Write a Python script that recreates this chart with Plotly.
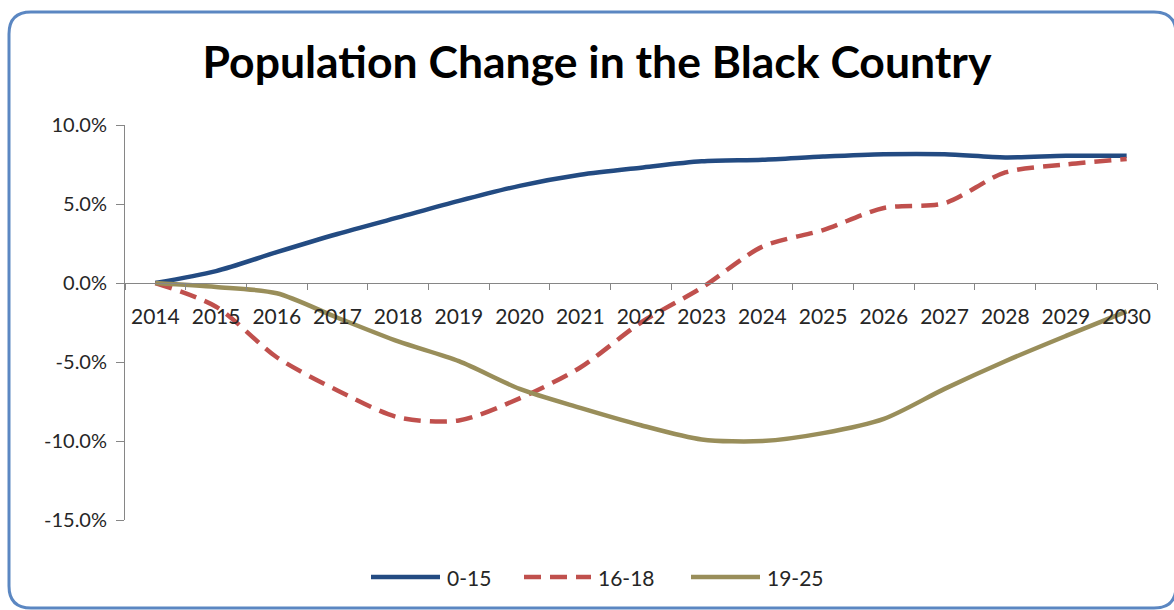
import plotly.graph_objects as go

years = [str(y) for y in range(2014, 2031)]
age_0_15 = [0, 0.75, 1.95, 3.1, 4.15, 5.2, 6.15, 6.85, 7.3, 7.7, 7.8, 8.0, 8.15, 8.15, 7.95, 8.05, 8.05]
age_16_18 = [0, -1.5, -4.7, -6.8, -8.5, -8.7, -7.3, -5.35, -2.5, -0.3, 2.3, 3.35, 4.75, 5.05, 7.0, 7.5, 7.85]
age_19_25 = [0, -0.25, -0.65, -2.2, -3.7, -4.95, -6.7, -7.9, -9.0, -9.9, -10.0, -9.5, -8.6, -6.7, -4.95, -3.35, -1.8]
y_tick_vals = [10, 5, 0, -5, -10, -15]
y_tick_text = ["10.0%", "5.0%", "0.0%", "-5.0%", "-10.0%", "-15.0%"]
series_names = ["0-15", "16-18", "19-25"]

W, H = 1174, 610
ML, MR, MT, MB = 125, 17, 125, 90
PW, PH = W - ML - MR, H - MT - MB
FONT = "Lato"
AXIS_GREY = "#868686"
TEXT = "#262626"

styles = [
    dict(color="#234B82", width=4.5),
    dict(color="#C0504D", width=4.5, dash="17px,9px"),
    dict(color="#998E5A", width=4.5),
]

fig = go.Figure()
for name, vals, st in zip(series_names, [age_0_15, age_16_18, age_19_25], styles):
    fig.add_trace(go.Scatter(x=years, y=vals, name=name, mode="lines",
                             line=dict(shape="spline", smoothing=0.8, **st)))


def px2paper(px, py):
    return (px - ML) / PW, (H - MB - py) / PH


def P(x, y):
    a, b = px2paper(x, y)
    return f"{a:.5f},{b:.5f}"


# rounded chart border
L, T, R, B, r = 9, 12, 1176, 608, 22
path = (f"M {P(L + r, T)} L {P(R - r, T)} Q {P(R, T)} {P(R, T + r)} "
        f"L {P(R, B - r)} Q {P(R, B)} {P(R - r, B)} "
        f"L {P(L + r, B)} Q {P(L, B)} {P(L, B - r)} "
        f"L {P(L, T + r)} Q {P(L, T)} {P(L + r, T)} Z")
fig.add_shape(type="path", path=path, xref="paper", yref="paper",
              line=dict(color="#5B87C2", width=3), layer="below")

# legend (drawn manually so the line samples match the long Excel keys)
legend_y = 577
legend_items = [(371, 440, 445), (524, 591, 596), (691, 760, 765)]
for (x0, x1, tx), name, st in zip(legend_items, series_names, styles):
    a0, b0 = px2paper(x0, legend_y)
    a1, _ = px2paper(x1, legend_y)
    fig.add_shape(type="line", xref="paper", yref="paper", x0=a0, x1=a1, y0=b0, y1=b0,
                  line=dict(color=st["color"], width=st["width"], dash=st.get("dash", "solid")))
    at, _ = px2paper(tx, legend_y)
    fig.add_annotation(text=name, xref="paper", yref="paper", x=at, y=b0,
                       xanchor="left", yanchor="middle", showarrow=False,
                       font=dict(family=FONT, size=21, color=TEXT))

zero_pos = (0 - min(y_tick_vals)) / (max(y_tick_vals) - min(y_tick_vals))

fig.update_layout(
    width=W, height=H,
    margin=dict(l=ML, r=MR, t=MT, b=MB, autoexpand=False),
    paper_bgcolor="white", plot_bgcolor="white",
    font=dict(family=FONT, size=21, color=TEXT),
    title=dict(text="<b>Population Change in the Black Country</b>",
               font=dict(family=FONT, size=44.5, color="black"),
               x=597 / W, xanchor="center", xref="container",
               y=1 - 62 / H, yanchor="middle", yref="container"),
    xaxis=dict(type="category", range=[-0.5, len(years) - 0.5],
               tickson="boundaries", ticks="outside", ticklen=6,
               tickcolor=AXIS_GREY, showline=True, linecolor=AXIS_GREY, linewidth=1,
               showgrid=False, zeroline=False, anchor="free", position=zero_pos,
               automargin=False, ticklabelstandoff=15,
               tickfont=dict(size=21, color=TEXT)),
    yaxis=dict(range=[min(y_tick_vals), max(y_tick_vals)], tickvals=y_tick_vals, ticktext=y_tick_text,
               ticks="outside", ticklen=8, tickcolor=AXIS_GREY, showline=True,
               linecolor=AXIS_GREY, linewidth=1, showgrid=False, zeroline=False,
               automargin=False, ticklabelstandoff=5,
               tickfont=dict(size=20, color=TEXT)),
    showlegend=False,
)

fig.write_html("out.html", config={"displayModeBar": False},
               post_script="document.body.style.margin='0';")
